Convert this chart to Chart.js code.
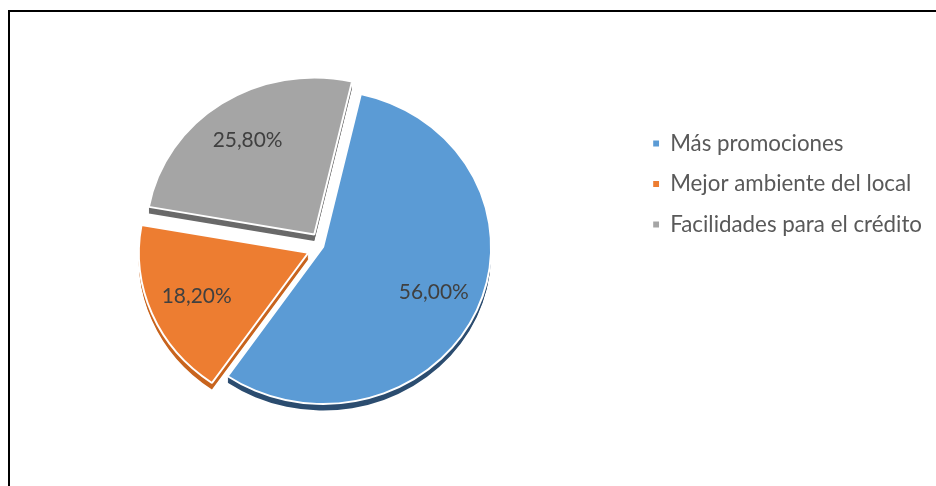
<!DOCTYPE html>
<html><head><meta charset="utf-8">
<script src="https://cdn.jsdelivr.net/npm/chart.js@4.4.0/dist/chart.umd.min.js"></script>
<style>
html,body{margin:0;padding:0;background:#fff;overflow:hidden;}
#wrap{position:relative;width:936px;height:486px;}
#frame{position:absolute;left:8px;top:10px;width:1000px;height:600px;border-left:2px solid #000;border-top:2px solid #000;}
canvas{position:absolute;left:0;top:0;}
</style></head><body>
<div id="wrap"><div id="frame"></div><canvas id="c" width="936" height="486"></canvas></div>
<script>
const categories = ['Más promociones', 'Mejor ambiente del local', 'Facilidades para el crédito'];
const values = [56.00, 18.20, 25.80];
const valueLabels = ['56,00%', '18,20%', '25,80%'];
const colors = ['#5B9BD5', '#ED7D31', '#A5A5A5'];
const sideColors = ['#2C4D70', '#C8641E', '#6A6A6A'];
const explode = [0, 16, 16];

const FONT = 'Lato, "Open Sans", sans-serif';
function fitSize(text, width) {
  const c = document.createElement('canvas').getContext('2d');
  c.font = '100px ' + FONT;
  return 100 * width / c.measureText(text).width;
}
const legendSize = fitSize('Facilidades para el crédito', 252);
const labelSize = fitSize('56,00%', 70);

const CX = 323, CY = 247, RX = 168, RY = 157, DEPTH = 7;
const SY = RY / RX;
const rowGap = 40.5;
const P = rowGap - legendSize;
const bw = Math.max(5, 17 - legendSize / 2);
const padT = 143.5 - P - legendSize / 2;
const padB = padT + 486 - 2 * CY;
const padR = 4;
const legendW = P + bw + legendSize / 2 + 252 + 10;
const areaRight = 936 - padR - legendW;
const padL = 2 * CX - areaRight;

const tiltPlugin = {
  id: 'tilt',
  beforeDatasetsDraw(chart) {
    const meta = chart.getDatasetMeta(0);
    const a = meta.data[0];
    const ctx = chart.ctx;
    ctx.save();
    ctx.translate(a.x, a.y);
    ctx.scale(1, SY);
    ctx.translate(-a.x, -a.y);
  },
  afterDatasetsDraw(chart) {
    chart.ctx.restore();
  }
};

const depthPlugin = {
  id: 'depth',
  beforeDatasetsDraw(chart) {
    const meta = chart.getDatasetMeta(0);
    const ctx = chart.ctx;
    meta.data.forEach((arc, i) => {
      const orig = arc.options;
      arc.options = Object.assign({}, orig, {backgroundColor: sideColors[i], borderWidth: 0});
      for (let d = DEPTH; d >= 1; d--) {
        ctx.save(); ctx.translate(0, d); arc.draw(ctx); ctx.restore();
      }
      arc.options = orig;
    });
  }
};

const labelPlugin = {
  id: 'valueLabels',
  afterDatasetsDraw(chart) {
    const meta = chart.getDatasetMeta(0);
    const ctx = chart.ctx;
    ctx.save();
    ctx.font = labelSize + 'px ' + FONT;
    ctx.fillStyle = '#404040';
    ctx.textAlign = 'center';
    ctx.textBaseline = 'middle';
    meta.data.forEach((arc, i) => {
      const mid = (arc.startAngle + arc.endAngle) / 2;
      const off = (arc.options.offset || 0) / 4;
      const r = 0.72 * arc.outerRadius + off;
      ctx.fillText(valueLabels[i], arc.x + Math.cos(mid) * r, arc.y + Math.sin(mid) * r * SY);
    });
    ctx.restore();
  }
};

new Chart(document.getElementById('c'), {
  type: 'doughnut',
  data: {
    labels: categories,
    datasets: [{
      data: values,
      backgroundColor: colors,
      borderColor: '#ffffff',
      borderWidth: 2,
      offset: explode.map(v => v * 4),
      hoverOffset: 0
    }]
  },
  options: {
    responsive: false,
    animation: false,
    cutout: 0,
    radius: RX,
    rotation: 13,
    clip: false,
    layout: {padding: {left: padL, right: padR, top: padT, bottom: padB}},
    plugins: {
      tooltip: {enabled: false},
      legend: {
        position: 'right',
        align: 'start',
        labels: {
          boxWidth: bw,
          boxHeight: bw,
          padding: P,
          color: '#595959',
          font: {family: FONT, size: legendSize},
          generateLabels(chart) {
            return Chart.overrides.doughnut.plugins.legend.labels.generateLabels(chart)
              .map(l => Object.assign(l, {lineWidth: 0}));
          }
        }
      }
    }
  },
  plugins: [tiltPlugin, depthPlugin, labelPlugin]
});
</script>
</body></html>
